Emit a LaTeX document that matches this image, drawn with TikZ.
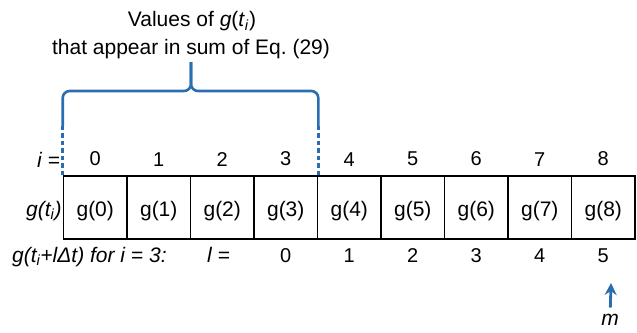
\documentclass[tikz,border=0pt]{standalone}
\usepackage{fontspec}
\setmainfont{Liberation Sans}
\usetikzlibrary{arrows.meta,positioning}
\definecolor{SumBlue}{HTML}{2A6DB0}

\tikzset{
  cellbox/.style={draw,line width=1.6pt,minimum width=63.5pt,minimum height=63pt,
    inner sep=0pt,text height=17.8pt,text depth=0pt,font=\fontsize{21}{25}\selectfont},
  numlabel/.style={inner sep=0pt,font=\fontsize{20}{24}\selectfont},
  textlabel/.style={inner sep=0pt,font=\fontsize{21}{25}\selectfont},
  rowlabel/.style={inner sep=0pt,font=\fontsize{21}{25}\selectfont\itshape},
  bracepart/.style={SumBlue,line width=2.6pt,rounded corners=7pt},
  bracedash/.style={SumBlue,line width=2.6pt,dash pattern=on 4.5pt off 3pt},
}

\begin{document}
\begin{tikzpicture}[x=1pt,y=-1pt]
  \useasboundingbox (0,0) rectangle (637,332);

  % cells and index row
  \foreach \k in {0,...,8}{
    \node[cellbox] (c\k) at ({95.25+63.5*\k},207.5) {g(\k)};
    \node[numlabel,above=9pt of c\k] (idx\k) {\k};
  }
  \foreach \k/\l in {3/0,4/1,5/2,6/3,7/4,8/5}{
    \node[numlabel,below=9pt of c\k] (lnum\k) {\l};
  }

  \node[rowlabel,anchor=base east] (ilab) at (60,167) {i =};
  \node[rowlabel,anchor=base east] (glab)
    at ([xshift=-1pt]c0.base west) {g(t\textsubscript{i})};
  \node[rowlabel,anchor=base west] (shiftlab)
    at (12,262) {g(t\textsubscript{i}+lΔt) for i = 3:};
  \node[rowlabel,anchor=base east] (llab) at (230,262) {l =};

  % brace over the summed values
  \node[textlabel,anchor=base] (title1) at (192,27)
    {Values of \textit{g}(\textit{t}\textsubscript{\textit{i}})};
  \node[textlabel,anchor=base] (title2) at (191,54)
    {that appear in sum of Eq.\ (29)};

  \draw[bracedash] (c0.north west) -- ++(0,-49);
  \draw[bracedash] (c3.north east) -- ++(0,-49);
  \draw[bracepart] (c0.north west) ++(0,-49) |- (191,91) -- (191,62);
  \draw[bracepart] (c3.north east) ++(0,-49) |- (191,91) -- (191,62);

  % pointer to the last cell
  \node[rowlabel,anchor=base] (m) at (610,325) {m};
  \coordinate (mtip) at (611,283);
  \draw[SumBlue,line width=2.8pt,shorten <=6pt,
    -{Stealth[length=12pt,width=12pt]}] (m) -- (mtip);
\end{tikzpicture}
\end{document}
